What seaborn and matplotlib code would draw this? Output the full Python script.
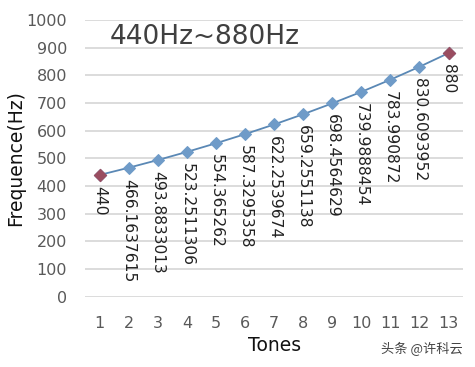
import numpy as np
import pandas as pd
import matplotlib
matplotlib.use("Agg")
import matplotlib.pyplot as plt
import seaborn as sns

# 十二平均律 440Hz ~ 880Hz
tones = list(range(1, 14))
freqs = [440, 466.1637615, 493.8833013, 523.2511306, 554.365262, 587.3295358,
         622.2539674, 659.2551138, 698.4564629, 739.9888454, 783.990872,
         830.6093952, 880]
labels = ["440", "466.1637615", "493.8833013", "523.2511306", "554.365262",
          "587.3295358", "622.2539674", "659.2551138", "698.4564629",
          "739.9888454", "783.990872", "830.6093952", "880"]
yticks = list(range(0, 1001, 100))

df = pd.DataFrame({"tone": tones, "freq": freqs})

sns.set_style("white")
plt.rcParams['font.family'] = ['DejaVu Sans', 'Noto Sans CJK SC']

fig = plt.figure(figsize=(4.75, 3.67), dpi=100)
ax = fig.add_axes([0.179, 0.191, 0.796, 0.755])

sns.lineplot(data=df, x="tone", y="freq", ax=ax, color="#5a88b5", lw=1.3,
             marker="D", markersize=6.5, markerfacecolor="#6f9bc8",
             markeredgecolor="#6f9bc8", zorder=3)
# 两端的点用暗红色
ends = df.iloc[[0, -1]]
sns.scatterplot(data=ends, x="tone", y="freq", ax=ax, marker="D", s=42,
                color="#9a4d60", edgecolor="#9a4d60", zorder=4, legend=False)

for t, f, lab in zip(tones, freqs, labels):
    ax.annotate(lab, (t, f), xytext=(0, -8), textcoords="offset points",
                rotation=270, ha="center", va="top", fontsize=11.2,
                color="#222222")

ax.set_xlim(0.5, 13.5)
ax.set_ylim(0, 1000)
ax.set_xticks(tones)
ax.set_yticks(yticks)
ax.grid(axis="y", color="#d6d6d6", lw=1.2)
ax.set_axisbelow(True)
for s in ax.spines.values():
    s.set_visible(False)
ax.tick_params(axis="both", length=0, labelsize=11.5, labelcolor="#595959")
ax.tick_params(axis="x", pad=14)
ax.tick_params(axis="y", pad=13)

ax.set_xlabel("Tones", fontsize=13.5, color="#111111", labelpad=3)
ax.set_ylabel("Frequence(Hz)", fontsize=13.5, color="#111111", labelpad=1)

ax.text(0.065, 0.985, "440Hz~880Hz", transform=ax.transAxes, fontsize=19,
        color="#404040", va="top", ha="left")

fig.text(0.975, 0.03, "头条 @许科云", fontsize=9.5, color="#444444", ha="right",
         va="bottom", family=['Noto Sans CJK SC', 'DejaVu Sans'])

fig.savefig("out.png", dpi=100)
